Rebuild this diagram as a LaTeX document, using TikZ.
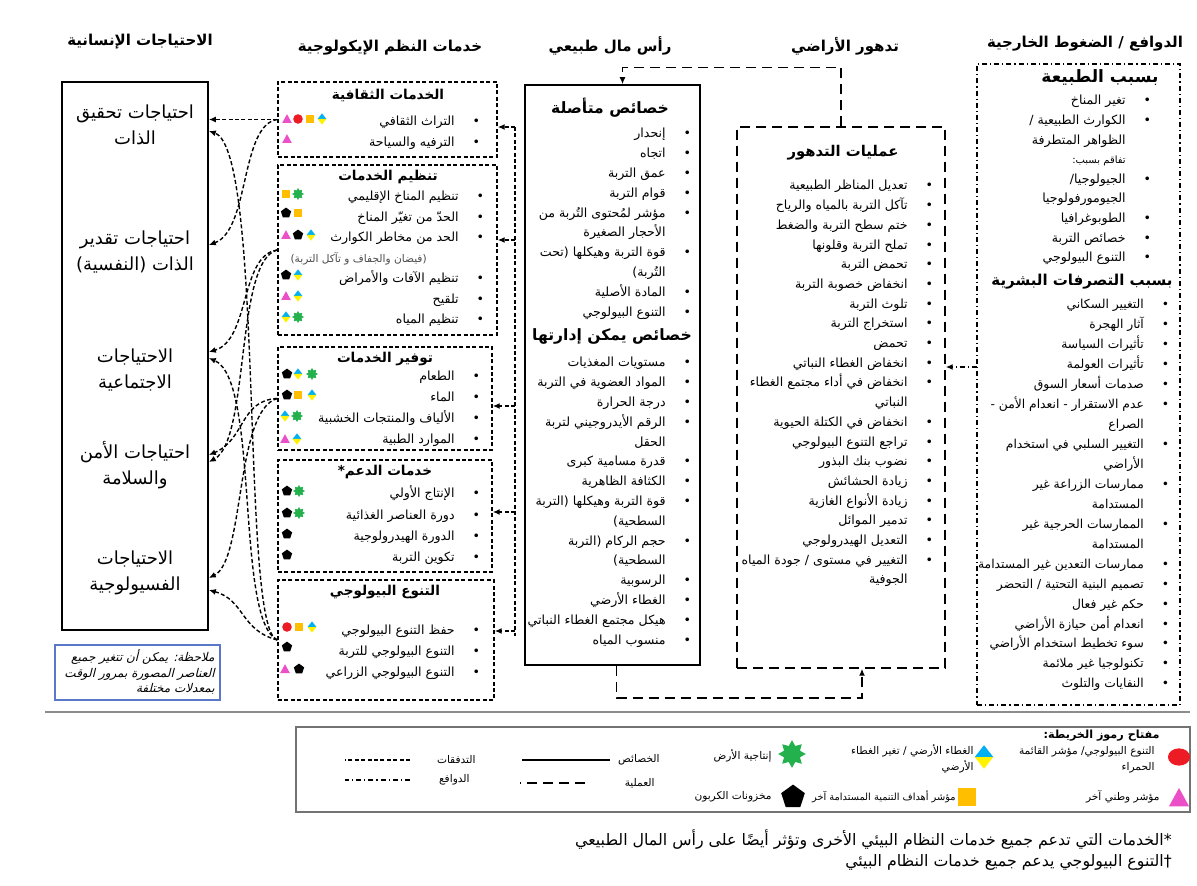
\documentclass[tikz,border=0pt]{standalone}
\usepackage{fontspec}
\usetikzlibrary{arrows.meta,fit,shapes.geometric}
\newfontfamily\arabicfont[Script=Arabic]{DejaVu Sans}
\newfontfamily\arabicslant[Script=Arabic,FakeSlant=0.25]{DejaVu Sans}
\TeXXeTstate=1
\newcommand\ar[1]{\beginR #1\endR}
\newcommand\zk{\kern0pt\relax}
\newcommand\parop{\kern0pt(\kern0pt\relax}
\newcommand\parcl{\kern0pt)\kern0pt\relax}
\newcommand\itm[1]{\ar{#1} & \textbullet\\}
\newcommand\cnt[1]{\ar{#1} & \\}
\newenvironment{blist}{\begin{tabular}[t]{@{}r@{\hspace{9pt}}c@{}}}{\end{tabular}}
\definecolor{kred}{RGB}{237,28,36}
\definecolor{kpink}{RGB}{235,80,200}
\definecolor{korange}{RGB}{255,190,0}
\definecolor{kgreen}{RGB}{34,177,76}
\definecolor{kcyan}{RGB}{0,176,240}
\definecolor{kyellow}{RGB}{255,242,0}
\definecolor{notecol}{RGB}{90,120,200}
\tikzset{
  flow/.style={dash pattern=on 2pt off 1.2pt, line width=0.7pt},
  proc/.style={dash pattern=on 5pt off 3pt, line width=0.7pt},
  drive/.style={dash pattern=on 2.5pt off 1.5pt on 0.6pt off 1.5pt, line width=0.7pt},
  prop/.style={line width=0.8pt},
  tip/.style={-{Latex[length=3.5pt,width=3pt]}},
  box/.style={draw, inner sep=0pt},
  hdr/.style={font=\arabicfont\bfseries\fontsize{7.5}{9}\selectfont},
  ttl/.style={font=\arabicfont\bfseries\fontsize{6.8}{8}\selectfont},
  big/.style={font=\arabicfont\bfseries\fontsize{#1}{10}\selectfont},
  big/.default=7.8,
  need/.style={align=center, font=\arabicfont\fontsize{9}{13}\selectfont},
  lst/.style={anchor=base east, inner sep=0pt, font=\arabicfont\fontsize{6.3}{#1}\selectfont},
  lst/.default=9.9,
  keytxt/.style={inner sep=0pt, align=right, font=\arabicfont\fontsize{5.3}{7.8}\selectfont},
  symtri/.pic={\fill[kpink] (-2.4pt,-2pt) -- (2.4pt,-2pt) -- (0pt,2.4pt) -- cycle;},
  symcirc/.pic={\fill[kred] (0pt,0pt) circle (2.4pt);},
  symsq/.pic={\fill[korange] (-2.2pt,-2.2pt) rectangle (2.2pt,2.2pt);},
  sympent/.pic={\node[regular polygon,regular polygon sides=5,fill=black,minimum size=5.4pt,inner sep=0pt,transform shape]{};},
  symstar/.pic={\node[star,star points=8,star point ratio=1.6,fill=kgreen,minimum size=6pt,inner sep=0pt,transform shape]{};},
  symdia/.pic={\fill[kcyan] (-2.2pt,0pt) -- (0pt,2.8pt) -- (2.2pt,0pt) -- cycle;
    \fill[kyellow] (-2.2pt,0pt) -- (2.2pt,0pt) -- (0pt,-2.8pt) -- cycle;},
}
\begin{document}
\begin{tikzpicture}[x=0.5pt,y=-0.5pt]
\useasboundingbox[fill=white] (0,0) rectangle (1197,886);

\node[hdr] (hNeeds) at (140,42) {\ar{الاحتياجات الإنسانية}};
\node[hdr] (hServ) at (390,48) {\ar{خدمات النظم الإيكولوجية}};
\node[hdr] (hCap) at (610,46) {\ar{رأس مال طبيعي}};
\node[hdr] (hDeg) at (845,46) {\ar{تدهور الأراضي}};
\node[hdr] (hDrv) at (1085,44) {\ar{الدوافع / الضغوط الخارجية}};

\node[box,prop,fit={(62,82) (208,630)}] (needs) {};
\node[box,flow,fit={(278,82) (497,157)}] (cul) {};
\node[box,flow,fit={(278,165) (497,335)}] (reg) {};
\node[box,flow,fit={(278,347) (492,450)}] (prov) {};
\node[box,flow,fit={(278,460) (492,572)}] (sup) {};
\node[box,flow,fit={(278,580) (494,700)}] (bio) {};
\node[box,prop,fit={(525,85) (700,665)}] (cap) {};
\node[box,proc,fit={(737,127) (945,668)}] (deg) {};
\node[box,drive,fit={(977,64) (1180,705)}] (drv) {};
\node[box,draw=notecol,line width=0.6pt,fit={(55,645) (220,700)}] (note) {};

\node[need] (sa) at (135,125) {\ar{احتياجات تحقيق}\\\ar{الذات}};
\node[need] (est) at (135,252) {\ar{احتياجات تقدير}\\\ar{الذات \parop النفسية\parcl}};
\node[need] (soc) at (135,370) {\ar{الاحتياجات}\\\ar{الاجتماعية}};
\node[need] (saf) at (135,465) {\ar{احتياجات الأمن}\\\ar{والسلامة}};
\node[need] (phy) at (135,573) {\ar{الاحتياجات}\\\ar{الفسيولوجية}};
\node[keytxt,anchor=east,font=\arabicslant\fontsize{6}{7.8}\selectfont] (noteT) at (215,672)
  {\ar{ملاحظة\zk: يمكن أن تتغير جميع}\\\ar{العناصر المصورة بمرور الوقت}\\\ar{بمعدلات مختلفة}};

\node[ttl] (culT) at (388,95) {\ar{الخدمات الثقافية}};
\node[ttl] (regT) at (388,177) {\ar{تنظيم الخدمات}};
\node[ttl] (provT) at (385,359) {\ar{توفير الخدمات}};
\node[ttl] (supT) at (385,472) {\ar{خدمات الدعم\zk*}};
\node[ttl] (bioT) at (385,592) {\ar{التنوع البيولوجي}};

\node[lst=10.5] (culL) at (480.5,126) {\begin{blist}\itm{التراث الثقافي}\itm{الترفيه والسياحة}\end{blist}};
\node[lst=10.25] (regL) at (484.5,201) {\begin{blist}
\itm{تنظيم المناخ الإقليمي}
\itm{الحدّ من تغيّر المناخ}
\itm{الحد من مخاطر الكوارث}
{\color{black!70}\fontsize{5.3}{8}\selectfont\ar{\parop فيضان والجفاف و تآكل التربة\parcl}}\hspace*{16pt} & \\
\itm{تنظيم الآفات والأمراض}
\itm{تلقيح}
\itm{تنظيم المياه}
\end{blist}};
\node[lst=10.5] (provL) at (480.5,381) {\begin{blist}
\itm{الطعام}
\itm{الماء}
\itm{الألياف والمنتجات الخشبية}
\itm{الموارد الطبية}
\end{blist}};
\node[lst=10.6] (supL) at (480.5,498) {\begin{blist}
\itm{الإنتاج الأولي}
\itm{دورة العناصر الغذائية}
\itm{الدورة الهيدرولوجية}
\itm{تكوين التربة}
\end{blist}};
\node[lst=10.5] (bioL) at (480.5,634) {\begin{blist}
\itm{حفظ التنوع البيولوجي}
\itm{التنوع البيولوجي للتربة}
\itm{التنوع البيولوجي الزراعي}
\end{blist}};

\foreach \sx/\sy in {287/119,287/139,286/235,286/296,285/439,285/669} \pic at (\sx,\sy) {symtri};
\foreach \sx/\sy in {298/119,287/627} \pic at (\sx,\sy) {symcirc};
\foreach \sx/\sy in {310/119,286/194,298/213,298/395,299/627} \pic at (\sx,\sy) {symsq};
\foreach \sx/\sy in {286/213,298/235,286/275,287/374,287/395,287/491,287/513,287/534,287/555,287/647,299/669} \pic at (\sx,\sy) {sympent};
\foreach \sx/\sy in {298/194,298/317,312/374,297/416,299/491,299/513} \pic at (\sx,\sy) {symstar};
\foreach \sx/\sy in {322/119,311/235,298/275,298/296,286/317,298/374,312/395,285/416,297/439,312/627} \pic at (\sx,\sy) {symdia};

\node[big] (capT1) at (610,108) {\ar{خصائص متأصلة}};
\node[lst] (capA) at (691.5,138) {\begin{blist}
\itm{إنحدار}
\itm{اتجاه}
\itm{عمق التربة}
\itm{قوام التربة}
\itm{مؤشر لمُحتوى التُربة من}
\cnt{الأحجار الصغيرة}
\itm{قوة التربة وهيكلها \parop تحت}
\cnt{التُربة\parcl}
\itm{المادة الأصلية}
\itm{التنوع البيولوجي}
\end{blist}};
\node[big] (capT2) at (612,336) {\ar{خصائص يمكن إدارتها}};
\node[lst] (capB) at (691.5,367) {\begin{blist}
\itm{مستويات المغذيات}
\itm{المواد العضوية في التربة}
\itm{درجة الحرارة}
\itm{الرقم الأيدروجيني لتربة}
\cnt{الحقل}
\itm{قدرة مسامية كبرى}
\itm{الكثافة الظاهرية}
\itm{قوة التربة وهيكلها \parop التربة}
\cnt{السطحية\parcl}
\itm{حجم الركام \parop التربة}
\cnt{السطحية\parcl}
\itm{الرسوبية}
\itm{الغطاء الأرضي}
\itm{هيكل مجتمع الغطاء النباتي}
\itm{منسوب المياه}
\end{blist}};

\node[big=7.4] (degT) at (843,153) {\ar{عمليات التدهور}};
\node[lst=9.85] (degA) at (933.5,190) {\begin{blist}
\itm{تعديل المناظر الطبيعية}
\itm{تآكل التربة بالمياه والرياح}
\itm{ختم سطح التربة والضغط}
\itm{تملح التربة وقلونها}
\itm{تحمض التربة}
\itm{انخفاض خصوبة التربة}
\itm{تلوث التربة}
\itm{استخراج التربة}
\itm{تحمض}
\itm{انخفاض الغطاء النباتي}
\itm{انخفاض في أداء مجتمع الغطاء}
\cnt{النباتي}
\itm{انخفاض في الكتلة الحيوية}
\itm{تراجع التنوع البيولوجي}
\itm{نضوب بنك البذور}
\itm{زيادة الحشائش}
\itm{زيادة الأنواع الغازية}
\itm{تدمير الموائل}
\itm{التعديل الهيدرولوجي}
\itm{التغيير في مستوى / جودة المياه}
\cnt{الجوفية}
\end{blist}};

\node[big=8.5] (drvT1) at (1100,78) {\ar{بسبب الطبيعة}};
\node[lst=9.8] (drvA) at (1151.5,105) {\begin{blist}
\itm{تغير المناخ}
\itm{الكوارث الطبيعية /}
\cnt{الظواهر المتطرفة}
{\fontsize{5}{8}\selectfont\ar{تفاقم بسبب\zk:}} & \\
\itm{الجيولوجيا\zk/}
\cnt{الجيومورفولوجيا}
\itm{الطوبوغرافيا}
\itm{خصائص التربة}
\itm{التنوع البيولوجي}
\end{blist}};
\node[big=7.5] (drvT2) at (1082,282) {\ar{بسبب التصرفات البشرية}};
\node[lst=9.97,font=\arabicfont\fontsize{6.15}{9.97}\selectfont] (drvC) at (1169.5,309) {\begin{blist}
\itm{التغيير السكاني}
\itm{آثار الهجرة}
\itm{تأثيرات السياسة}
\itm{تأثيرات العولمة}
\itm{صدمات أسعار السوق}
\itm{عدم الاستقرار - انعدام الأمن -}
\cnt{الصراع}
\itm{التغيير السلبي في استخدام}
\cnt{الأراضي}
\itm{ممارسات الزراعة غير}
\cnt{المستدامة}
\itm{الممارسات الحرجية غير}
\cnt{المستدامة}
\itm{ممارسات التعدين غير المستدامة}
\itm{تصميم البنية التحتية / التحضر}
\itm{حكم غير فعال}
\itm{انعدام أمن حيازة الأراضي}
\itm{سوء تخطيط استخدام الأراضي}
\itm{تكنولوجيا غير ملائمة}
\itm{النفايات والتلوث}
\end{blist}};

\coordinate (trk) at (515,127);
\coordinate (trkEnd) at (515,636);
\coordinate (drvIn) at (977,367);
\draw[flow] (trk) -- (trkEnd);
\foreach \b/\yy in {cul/127,reg/240,prov/406,sup/512,bio/631}
  \draw[flow,tip] (trk |- 0,\yy) -- (\b.east |- 0,\yy);
\draw[proc,tip] (deg.north) -- ++(0,-59) -| ([xshift=5pt]cap.north);
\draw[proc,tip] ([xshift=2pt]cap.south) -- ++(0,32) -| ([xshift=10.5pt]deg.south);
\draw[drive,tip] (drvIn) -- (deg.east |- drvIn);

\draw[flow,tip] (cul.west) -- (needs.east |- cul.west);
\draw[flow,tip] (cul.west) .. controls (240,125) and (250,230) .. (needs.east |- 0,245);
\draw[flow,tip] (bio.west) .. controls (240,630) and (265,150) .. (needs.east |- 0,131);
\draw[flow,tip] (reg.west) .. controls (240,255) and (250,340) .. (needs.east |- 0,352);
\draw[flow,tip] (reg.west) .. controls (235,260) and (250,440) .. (needs.east |- 0,462);
\draw[flow,tip] (prov.west) .. controls (240,400) and (245,440) .. (needs.east |- 0,455);
\draw[flow,tip] (prov.west) .. controls (235,410) and (245,560) .. (needs.east |- 0,578);
\draw[flow,tip] (bio.west) .. controls (240,630) and (245,600) .. (needs.east |- 0,590);
\draw[flow,tip] (bio.west) .. controls (235,620) and (260,380) .. (needs.east |- 0,358);

\draw[black!45,line width=0.8pt] (45,712) -- (1190,712);
\node[box,draw=black!55,line width=0.7pt,fit={(296,727) (1190,812)}] (key) {};
\node[keytxt,anchor=east,font=\arabicfont\bfseries\fontsize{5.6}{8}\selectfont] (keyT) at (1160,736) {\ar{مفتاح رموز الخريطة\zk:}};
\pic[xscale=2.3,yscale=1.8] at (1179,757) {symcirc};
\node[keytxt,anchor=north east] (kRed) at (1155,746) {\ar{التنوع البيولوجي\zk/ مؤشر القائمة}\\\ar{الحمراء}};
\pic[scale=2.1] at (984,757) {symdia};
\node[keytxt,anchor=north east] (kDia) at (974,744) {\ar{الغطاء الأرضي / تغير الغطاء}\\\ar{الأرضي}};
\pic[scale=2.3] at (792,754) {symstar};
\node[keytxt,anchor=east] (kStar) at (772,756) {\ar{إنتاجية الأرض}};
\pic[scale=2.1] at (1179,798) {symtri};
\node[keytxt,anchor=east] (kTri) at (1160,797) {\ar{مؤشر وطني آخر}};
\pic[scale=2.1] at (967,797) {symsq};
\node[keytxt,anchor=east,font=\arabicfont\fontsize{4.9}{7}\selectfont] (kSq) at (956,797) {\ar{مؤشر أهداف التنمية المستدامة آخر}};
\pic[scale=2.3] at (793,797) {sympent};
\node[keytxt,anchor=east] (kPent) at (772,797) {\ar{مخزونات الكربون}};
\node[keytxt,anchor=east] (kProp) at (660,760) {\ar{الخصائص}};
\node[keytxt,anchor=east] (kProc) at (655,783) {\ar{العملية}};
\node[keytxt,anchor=east] (kFlow) at (476,760) {\ar{التدفقات}};
\node[keytxt,anchor=east] (kDrive) at (470,780) {\ar{الدوافع}};
\draw[prop] (kProp.west -| 610,0) -- ++(-88,0);
\draw[proc] (kProc.west -| 585,0) -- ++(-65,0);
\draw[flow] (kFlow.west -| 410,0) -- ++(-65,0);
\draw[drive] (kDrive.west -| 410,0) -- ++(-65,0);

\node[anchor=east,inner sep=0pt,font=\arabicfont\fontsize{7.9}{10}\selectfont] (fn1) at (1172,840)
  {\ar{*\zk الخدمات التي تدعم جميع خدمات النظام البيئي الأخرى وتؤثر أيضًا على رأس المال الطبيعي}};
\node[anchor=east,inner sep=0pt,font=\arabicfont\fontsize{7.9}{10}\selectfont] (fn2) at (1172,862)
  {\ar{†\zk التنوع البيولوجي يدعم جميع خدمات النظام البيئي}};
\end{tikzpicture}
\end{document}
